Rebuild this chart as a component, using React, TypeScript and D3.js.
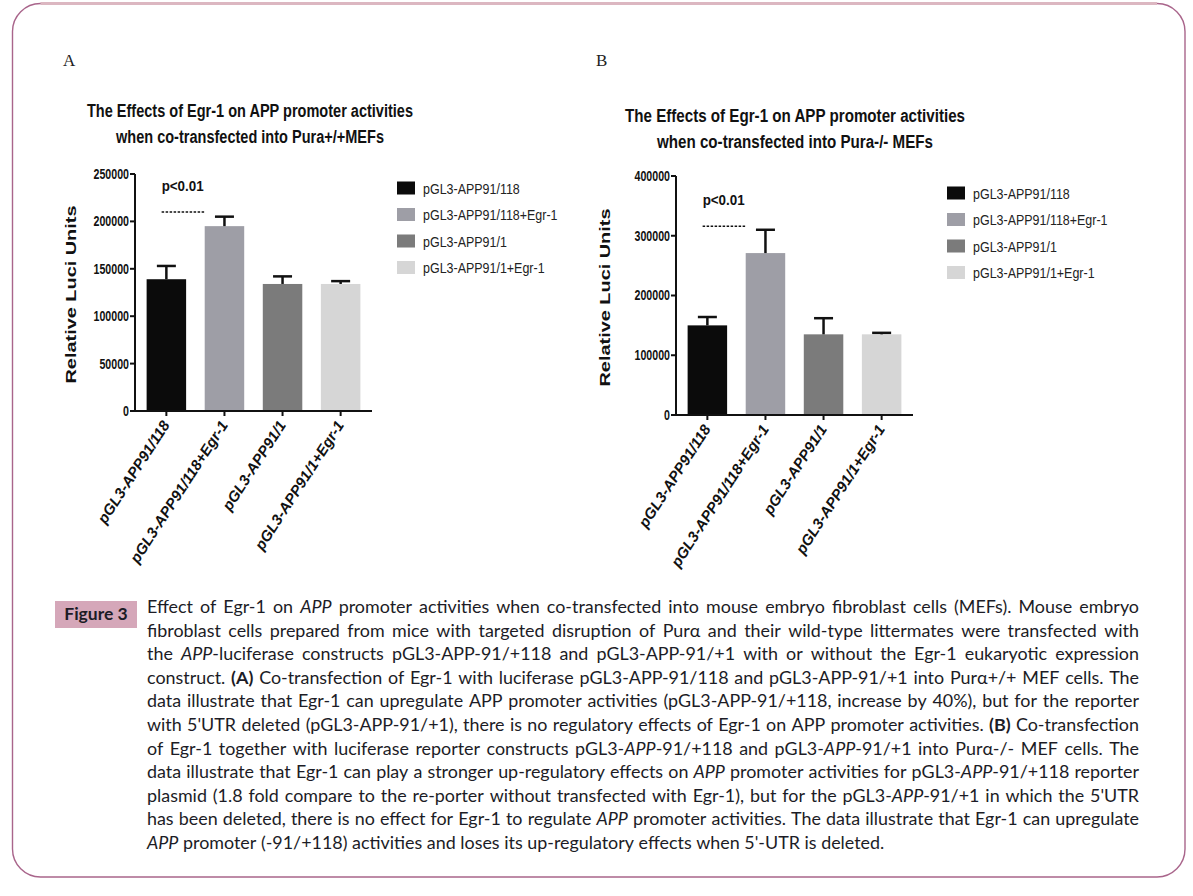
import React, { useEffect, useRef } from 'react';
import * as d3 from 'd3';

// ---------- data ----------
const categories = ['pGL3-APP91/118', 'pGL3-APP91/118+Egr-1', 'pGL3-APP91/1', 'pGL3-APP91/1+Egr-1'];
const barColors = ['#0b0b0b', '#9e9ea6', '#7b7b7b', '#d6d6d6'];
const meansA = [139000, 195000, 134000, 134000];
const upperA = [153000, 205000, 142000, 137000];
const meansB = [150000, 271000, 135000, 135000];
const upperB = [164000, 310000, 162000, 137500];
const ticksA = [0, 50000, 100000, 150000, 200000, 250000];
const ticksB = [0, 100000, 200000, 300000, 400000];
const titleA = ['The Effects of Egr-1 on APP promoter activities', 'when co-transfected into Pura+/+MEFs'];
const titleB = ['The Effects of Egr-1 on APP promoter activities', 'when co-transfected into Pura-/- MEFs'];
const yLabel = 'Relative Luci Units';
const sigLabel = 'p<0.01';

// caption: _x_ italic, #x# bold
const captionLines = [
  'Effect of Egr-1 on _APP_ promoter activities when co-transfected into mouse embryo fibroblast cells (MEFs). Mouse embryo',
  'fibroblast cells prepared from mice with targeted disruption of Purα and their wild-type littermates were transfected with',
  'the _APP_-luciferase constructs pGL3-APP-91/+118 and pGL3-APP-91/+1 with or without the Egr-1 eukaryotic expression',
  'construct. #(A)# Co-transfection of Egr-1 with luciferase pGL3-APP-91/118 and pGL3-APP-91/+1 into Purα+/+ MEF cells. The',
  'data illustrate that Egr-1 can upregulate APP promoter activities (pGL3-APP-91/+118, increase by 40%), but for the reporter',
  "with 5'UTR deleted (pGL3-APP-91/+1), there is no regulatory effects of Egr-1 on APP promoter activities. #(B)# Co-transfection",
  'of Egr-1 together with luciferase reporter constructs pGL3-_APP_-91/+118 and pGL3-_APP_-91/+1 into Purα-/- MEF cells. The',
  'data illustrate that Egr-1 can play a stronger up-regulatory effects on _APP_ promoter activities for pGL3-_APP_-91/+118 reporter',
  "plasmid (1.8 fold compare to the re-porter without transfected with Egr-1), but for the pGL3-_APP_-91/+1 in which the 5'UTR",
  'has been deleted, there is no effect for Egr-1 to regulate _APP_ promoter activities. The data illustrate that Egr-1 can upregulate',
  "_APP_ promoter (-91/+118) activities and loses its up-regulatory effects when 5'-UTR is deleted.",
];
const figureLabel = 'Figure 3';

const CHART_FONT = "'Liberation Sans', Arial, sans-serif";
const CAPTION_FONT = "Lato, 'Open Sans', sans-serif";

type PanelProps = {
  letter: string;
  letterX: number;
  x0: number;
  x1: number;
  yTop: number;
  yBottom: number;
  max: number;
  ticks: number[];
  means: number[];
  uppers: number[];
  title: string[];
  titleCx: number;
  titleY: number;
  titleW: [number, number];
  yLabelX: number;
  legendX: number;
  legendY: number;
  sigTextV: number;
  sigLineV: number;
};

function Panel(p: PanelProps) {
  const x = d3.scaleBand<string>().domain(categories).range([p.x0, p.x1]).paddingInner(0.32).paddingOuter(0.2);
  const y = d3.scaleLinear().domain([0, p.max]).range([p.yBottom, p.yTop]);
  const bw = x.bandwidth();
  const capW = 19;
  const xs = (c: string) => x(c) as number;
  const tx = p.x0 - 6;
  const tickScale = 0.76;
  return (
    <g>
      <text x={p.letterX} y={66} fontFamily="'Liberation Serif', 'DejaVu Serif', serif" fontSize={17} fill="#222">
        {p.letter}
      </text>
      {p.title.map((t, i) => (
        <text
          key={i}
          x={p.titleCx}
          y={p.titleY + i * 26}
          textAnchor="middle"
          fontFamily={CHART_FONT}
          fontWeight="bold"
          fontSize={18}
          textLength={p.titleW[i]}
          lengthAdjust="spacingAndGlyphs"
          fill="#111"
        >
          {t}
        </text>
      ))}
      <text
        transform={`translate(${p.yLabelX},${(p.yTop + p.yBottom) / 2 + 2}) rotate(-90)`}
        textAnchor="middle"
        fontFamily={CHART_FONT}
        fontWeight="bold"
        fontSize={15.5}
        textLength={178}
        lengthAdjust="spacingAndGlyphs"
        fill="#111"
      >
        {yLabel}
      </text>
      {/* bars */}
      {categories.map((c, i) => (
        <rect key={c} x={xs(c)} y={y(p.means[i])} width={bw} height={y(0) - y(p.means[i])} fill={barColors[i]} />
      ))}
      {/* error bars */}
      {categories.map((c, i) => {
        const cx = xs(c) + bw / 2;
        return (
          <g key={'e' + c} stroke="#111" strokeWidth={2.5}>
            <line x1={cx} x2={cx} y1={y(p.means[i])} y2={y(p.uppers[i])} />
            <line x1={cx - capW / 2} x2={cx + capW / 2} y1={y(p.uppers[i])} y2={y(p.uppers[i])} />
          </g>
        );
      })}
      {/* y axis */}
      <line x1={p.x0} x2={p.x0} y1={p.yTop} y2={p.yBottom + 1} stroke="#111" strokeWidth={2} />
      {p.ticks.map((t) => (
        <g key={t}>
          <line x1={p.x0 - 5} x2={p.x0} y1={y(t)} y2={y(t)} stroke="#111" strokeWidth={2} />
          <text
            x={tx}
            y={y(t) + 5}
            textAnchor="end"
            fontFamily={CHART_FONT}
            fontWeight="bold"
            fontSize={14}
            fill="#111"
            transform={`translate(${tx * (1 - tickScale)},0) scale(${tickScale},1)`}
          >
            {t}
          </text>
        </g>
      ))}
      {/* x axis */}
      <line x1={p.x0 - 1} x2={p.x1} y1={p.yBottom} y2={p.yBottom} stroke="#111" strokeWidth={2} />
      {categories.map((c) => {
        const cx = xs(c) + bw / 2;
        return (
          <g key={'x' + c}>
            <line x1={cx} x2={cx} y1={p.yBottom} y2={p.yBottom + 5} stroke="#111" strokeWidth={2} />
            <text
              transform={`translate(${cx + 4},${p.yBottom + 14}) rotate(-57)`}
              textAnchor="end"
              fontFamily={CHART_FONT}
              fontWeight="bold"
              fontStyle="italic"
              fontSize={15}
              fill="#111"
            >
              {c}
            </text>
          </g>
        );
      })}
      {/* significance */}
      <text
        x={xs(categories[0]) + bw * 0.38}
        y={y(p.sigTextV)}
        fontFamily={CHART_FONT}
        fontWeight="bold"
        fontSize={14}
        fill="#111"
        textLength={42}
        lengthAdjust="spacingAndGlyphs"
      >
        {sigLabel}
      </text>
      <line
        x1={xs(categories[0]) + bw * 0.38}
        x2={xs(categories[1])}
        y1={y(p.sigLineV)}
        y2={y(p.sigLineV)}
        stroke="#111"
        strokeWidth={1.5}
        strokeDasharray="2.5,1.5"
      />
      {/* legend */}
      {categories.map((c, i) => (
        <g key={'l' + c} transform={`translate(${p.legendX},${p.legendY + i * 26.5})`}>
          <rect x={0} y={-6.5} width={18} height={13} fill={barColors[i]} />
          <text
            x={0}
            y={5.5}
            fontFamily={CHART_FONT}
            fontSize={14.5}
            fill="#222"
            transform="translate(26,0) scale(0.86,1)"
          >
            {c}
          </text>
        </g>
      ))}
    </g>
  );
}

type Seg = { t: string; s: 'n' | 'i' | 'b' };
function parseWord(w: string): Seg[] {
  const segs: Seg[] = [];
  const re = /(_[^_]+_|#[^#]+#)/g;
  let last = 0;
  let m: RegExpExecArray | null;
  while ((m = re.exec(w))) {
    if (m.index > last) segs.push({ t: w.slice(last, m.index), s: 'n' });
    const tok = m[0];
    segs.push({ t: tok.slice(1, -1), s: tok[0] === '_' ? 'i' : 'b' });
    last = m.index + tok.length;
  }
  if (last < w.length) segs.push({ t: w.slice(last), s: 'n' });
  return segs;
}

function Caption() {
  const ref = useRef<SVGGElement>(null);
  useEffect(() => {
    const g = d3.select(ref.current);
    g.selectAll('*').remove();
    const left = 147;
    const right = 1139;
    const y0 = 613;
    const lh = 23.6;
    const fs = 17.9;
    const probe = g.append('text').attr('font-family', CAPTION_FONT).attr('font-size', fs);
    probe.text('a a');
    const w1 = (probe.node() as SVGTextElement).getComputedTextLength();
    probe.text('aa');
    const w2 = (probe.node() as SVGTextElement).getComputedTextLength();
    probe.remove();
    const spaceW = w1 - w2;
    captionLines.forEach((line, li) => {
      const words = line.split(' ');
      const nodes: { el: SVGTextElement; w: number }[] = [];
      words.forEach((w) => {
        const t = g
          .append('text')
          .attr('y', y0 + li * lh)
          .attr('font-family', CAPTION_FONT)
          .attr('font-size', fs)
          .attr('fill', '#1c1c26');
        parseWord(w).forEach((sg) => {
          const ts = t.append('tspan').text(sg.t);
          if (sg.s === 'i') ts.attr('font-style', 'italic');
          if (sg.s === 'b') ts.attr('font-weight', 'bold');
        });
        const el = t.node() as SVGTextElement;
        nodes.push({ el, w: el.getComputedTextLength() });
      });
      const total = d3.sum(nodes, (n) => n.w);
      const last = li === captionLines.length - 1;
      let gap = last || nodes.length < 2 ? spaceW : (right - left - total) / (nodes.length - 1);
      let scale = 1;
      if (gap < spaceW * 0.6) {
        gap = spaceW * 0.8;
        scale = (right - left - gap * (nodes.length - 1)) / total;
      }
      let cx = left;
      nodes.forEach((n) => {
        const sel = d3.select(n.el);
        if (scale !== 1) {
          sel.attr('x', 0).attr('transform', `translate(${cx},0) scale(${scale},1)`);
        } else {
          sel.attr('x', cx);
        }
        cx += n.w * scale + gap;
      });
    });
  }, []);
  return <g ref={ref} />;
}

export default function App() {
  const W = 1193;
  const H = 896;
  const r = 28;
  const L = 12.5,
    T = 3.5,
    R = 1185,
    B = 877;
  const frame = `M${L + r},${T} H${R - r} A${r},${r} 0 0 1 ${R},${T + r} V${B - r} A${r},${r} 0 0 1 ${R - r},${B} H${L + r} A${r},${r} 0 0 1 ${L},${B - r} V${T + r} A${r},${r} 0 0 1 ${L + r},${T} Z`;
  return (
    <svg width={W} height={H} style={{ position: 'absolute', left: 0, top: 0, background: '#fff' }}>
      <rect width={W} height={H} fill="#fff" />
      <path d={frame} fill="none" stroke="#a9658b" strokeWidth={1.4} />
      <line x1={L + r} x2={R - r} y1={T} y2={T} stroke="#dcb7c1" strokeWidth={3} />
      <Panel
        letter="A"
        letterX={63}
        x0={135}
        x1={372}
        yTop={174}
        yBottom={411}
        max={250000}
        ticks={ticksA}
        means={meansA}
        uppers={upperA}
        title={titleA}
        titleCx={250}
        titleY={117}
        titleW={[326, 268]}
        yLabelX={76}
        legendX={397}
        legendY={188}
        sigTextV={232000}
        sigLineV={210000}
      />
      <Panel
        letter="B"
        letterX={596}
        x0={676}
        x1={913}
        yTop={176}
        yBottom={415}
        max={400000}
        ticks={ticksB}
        means={meansB}
        uppers={upperB}
        title={titleB}
        titleCx={795}
        titleY={122}
        titleW={[340, 276]}
        yLabelX={610}
        legendX={947}
        legendY={193}
        sigTextV={352000}
        sigLineV={316000}
      />
      <rect x={55} y={601} width={82} height={27} fill="#d5a7b9" />
      <text x={96} y={620} textAnchor="middle" fontFamily={CAPTION_FONT} fontWeight="bold" fontSize={17.5} fill="#1c1c26">
        {figureLabel}
      </text>
      <Caption />
    </svg>
  );
}
